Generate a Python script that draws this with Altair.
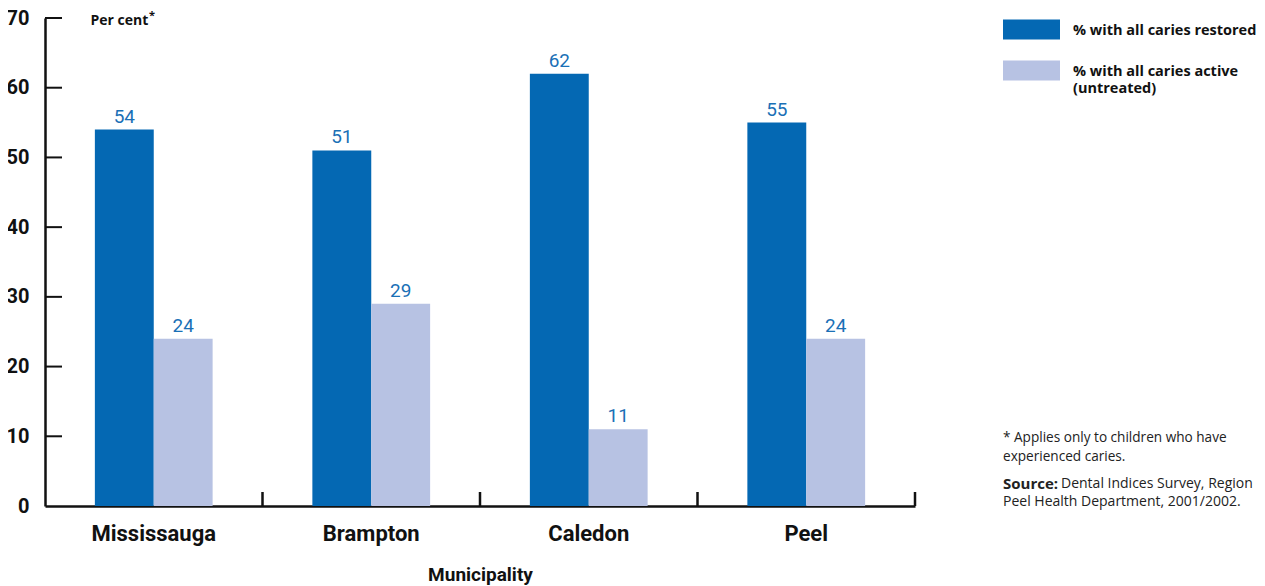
import altair as alt
import pandas as pd

municipalities = ["Mississauga", "Brampton", "Caledon", "Peel"]
series_names = ["% with all caries restored", "% with all caries active (untreated)"]
restored = [54, 51, 62, 55]
active = [24, 29, 11, 24]
colors = ["#0468b3", "#b7c2e3"]
y_ticks = [0, 10, 20, 30, 40, 50, 60, 70]
footnote_lines = ["* Applies only to children who have", "experienced caries."]
source_label = ["Source:"]
source_lines = ["Dental Indices Survey, Region", "Peel Health Department, 2001/2002."]

rows = []
for i, m in enumerate(municipalities):
    rows.append({"muni": m, "series": series_names[0], "value": restored[i]})
    rows.append({"muni": m, "series": series_names[1], "value": active[i]})
df = pd.DataFrame(rows)

W, H = 870, 488
COND = "Roboto, Liberation Sans, sans-serif"
SANS = "Open Sans, Liberation Sans, Arial, sans-serif"

x_enc = alt.X("muni:N", sort=municipalities,
              scale=alt.Scale(paddingInner=0, paddingOuter=0),
              axis=alt.Axis(title="Municipality", labelAngle=0, ticks=False, tickSize=0,
                            labelFont=COND, labelFontSize=22, labelFontWeight="bold",
                            labelColor="#111", labelPadding=17, domainColor="#111",
                            domainWidth=2.5, titleFont=COND, titleFontSize=19,
                            titleFontWeight="bold", titleColor="#111",
                            titleY=74, titleBaseline="alphabetic"))
xo_enc = alt.XOffset("series:N", sort=series_names,
                     scale=alt.Scale(paddingInner=0, paddingOuter=0.847))
y_enc = alt.Y("value:Q", scale=alt.Scale(domain=[0, 70], nice=False),
              axis=alt.Axis(values=y_ticks, ticks=False, tickSize=0, grid=False,
                            title="Per cent", titleAngle=0, titleAlign="left",
                            titleBaseline="middle", titleX=45, titleY=2,
                            titleFont=SANS, titleFontSize=14, titleFontWeight="bold",
                            titleColor="#111",
                            labelFont=COND, labelFontSize=20, labelFontWeight="bold",
                            labelColor="#111", labelPadding=16,
                            domainColor="#111", domainWidth=2.5))

color_enc = alt.Color("series:N", sort=series_names,
                      scale=alt.Scale(domain=series_names, range=colors),
                      legend=alt.Legend(title=None, orient="none", legendX=958, legendY=7,
                                        symbolType="M-1,-1.54H4.7V0.46H-1Z",
                                        symbolSize=400, symbolStrokeWidth=0,
                                        labelOffset=50, rowPadding=20, padding=0,
                                        labelFont=SANS, labelFontSize=14.5,
                                        labelFontWeight="bold", labelColor="#111",
                                        labelBaseline="alphabetic", labelLimit=400,
                                        labelExpr="split(replace(datum.label, ' (', '|('), '|')"))

bars = alt.Chart(df).mark_bar().encode(x=x_enc, xOffset=xo_enc, y=y_enc, color=color_enc)

labels = alt.Chart(df).mark_text(baseline="alphabetic", dy=-7, font=COND, fontSize=19,
                                 color="#1a70b6").encode(
    x=alt.X("muni:N", sort=municipalities), xOffset=alt.XOffset("series:N", sort=series_names),
    y="value:Q", text="value:Q")

ytick_df = pd.DataFrame({"v": y_ticks[1:]})
yticks = alt.Chart(ytick_df).mark_rule(color="#111", strokeWidth=2).encode(
    y="v:Q", x=alt.value(0), x2=alt.value(17))

xtick_df = pd.DataFrame({"muni": municipalities})
xticks = alt.Chart(xtick_df).mark_rule(color="#111", strokeWidth=2.5).encode(
    x=alt.X("muni:N", sort=municipalities, bandPosition=1),
    y=alt.value(H - 14), y2=alt.value(H))

ast = alt.Chart(pd.DataFrame({"t": ["*"]})).mark_text(
    align="left", baseline="middle", font=SANS, fontSize=11, fontWeight="bold", color="#111"
).encode(text="t:N", x=alt.value(104), y=alt.value(-2))

foot1 = alt.Chart(pd.DataFrame({"t": [footnote_lines[0]]})).mark_text(
    align="left", baseline="middle", font=SANS, fontSize=13.6, color="#222").encode(
    text="t:N", x=alt.value(958), y=alt.value(420))
foot2 = alt.Chart(pd.DataFrame({"t": [footnote_lines[1]]})).mark_text(
    align="left", baseline="middle", font=SANS, fontSize=13.6, color="#222").encode(
    text="t:N", x=alt.value(958), y=alt.value(439))
src_b = alt.Chart(pd.DataFrame({"t": source_label})).mark_text(
    align="left", baseline="middle", font=SANS, fontSize=15, fontWeight="bold", color="#222").encode(
    text="t:N", x=alt.value(958), y=alt.value(466))
src1 = alt.Chart(pd.DataFrame({"t": [source_lines[0]]})).mark_text(
    align="left", baseline="middle", font=SANS, fontSize=14, color="#222").encode(
    text="t:N", x=alt.value(1016), y=alt.value(466))
src2 = alt.Chart(pd.DataFrame({"t": [source_lines[1]]})).mark_text(
    align="left", baseline="middle", font=SANS, fontSize=14, color="#222").encode(
    text="t:N", x=alt.value(958), y=alt.value(484))

chart = alt.layer(bars, labels, yticks, xticks, ast, foot1, foot2, src_b, src1, src2).properties(
    width=W, height=H,
    background="white",
    padding={"left": 37, "top": 10, "right": 342, "bottom": 80},
    autosize=alt.AutoSizeParams(type="none"),
).configure_view(stroke="transparent")

chart.save("out.html", embed_options={"renderer": "svg", "actions": False})
